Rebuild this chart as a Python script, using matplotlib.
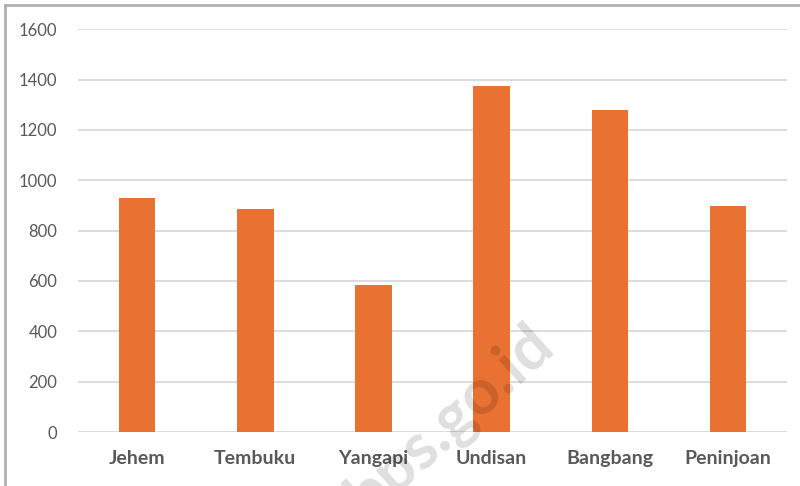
import matplotlib.pyplot as plt
from matplotlib.lines import Line2D

desa = ['Jehem', 'Tembuku', 'Yangapi', 'Undisan', 'Bangbang', 'Peninjoan']
nilai = [929, 885, 584, 1374, 1278, 897]
yticks = [0, 200, 400, 600, 800, 1000, 1200, 1400, 1600]

plt.rcParams['font.family'] = ['Lato', 'DejaVu Sans']

fig = plt.figure(figsize=(8, 4.86), dpi=100)
ax = fig.add_axes([0.0975, 0.111, 0.8865, 0.829])

ax.bar(range(len(desa)), nilai, width=0.31, color='#E97132', zorder=3)

ax.set_xlim(-0.5, len(desa) - 0.5)
ax.set_ylim(0, 1600)
ax.set_yticks(yticks)
ax.set_yticklabels([str(v) for v in yticks], fontsize=12, color='#595959')
ax.set_xticks(range(len(desa)))
ax.set_xticklabels(desa, fontsize=14, fontweight='bold', color='#595959')
ax.tick_params(axis='both', length=0)
ax.tick_params(axis='y', pad=15)
ax.tick_params(axis='x', pad=13)
ax.grid(axis='y', color='#d9d9d9', linewidth=1.3, zorder=0)
for s in ax.spines.values():
    s.set_visible(False)

# frame of the screenshot (top and left only)
fig.add_artist(Line2D([0.0065, 1.0], [0.99, 0.99], transform=fig.transFigure,
                      color='#b0b0b0', linewidth=2))
fig.add_artist(Line2D([0.0065, 0.0065], [0.0, 0.99], transform=fig.transFigure,
                      color='#b0b0b0', linewidth=2))

# watermark
fig.text(0.5625, 0.136, 'bps.go.id', fontsize=46, fontweight='bold', color='black',
         alpha=0.13, rotation=42, ha='center', va='center', zorder=10)

fig.savefig('out.png', dpi=100)
